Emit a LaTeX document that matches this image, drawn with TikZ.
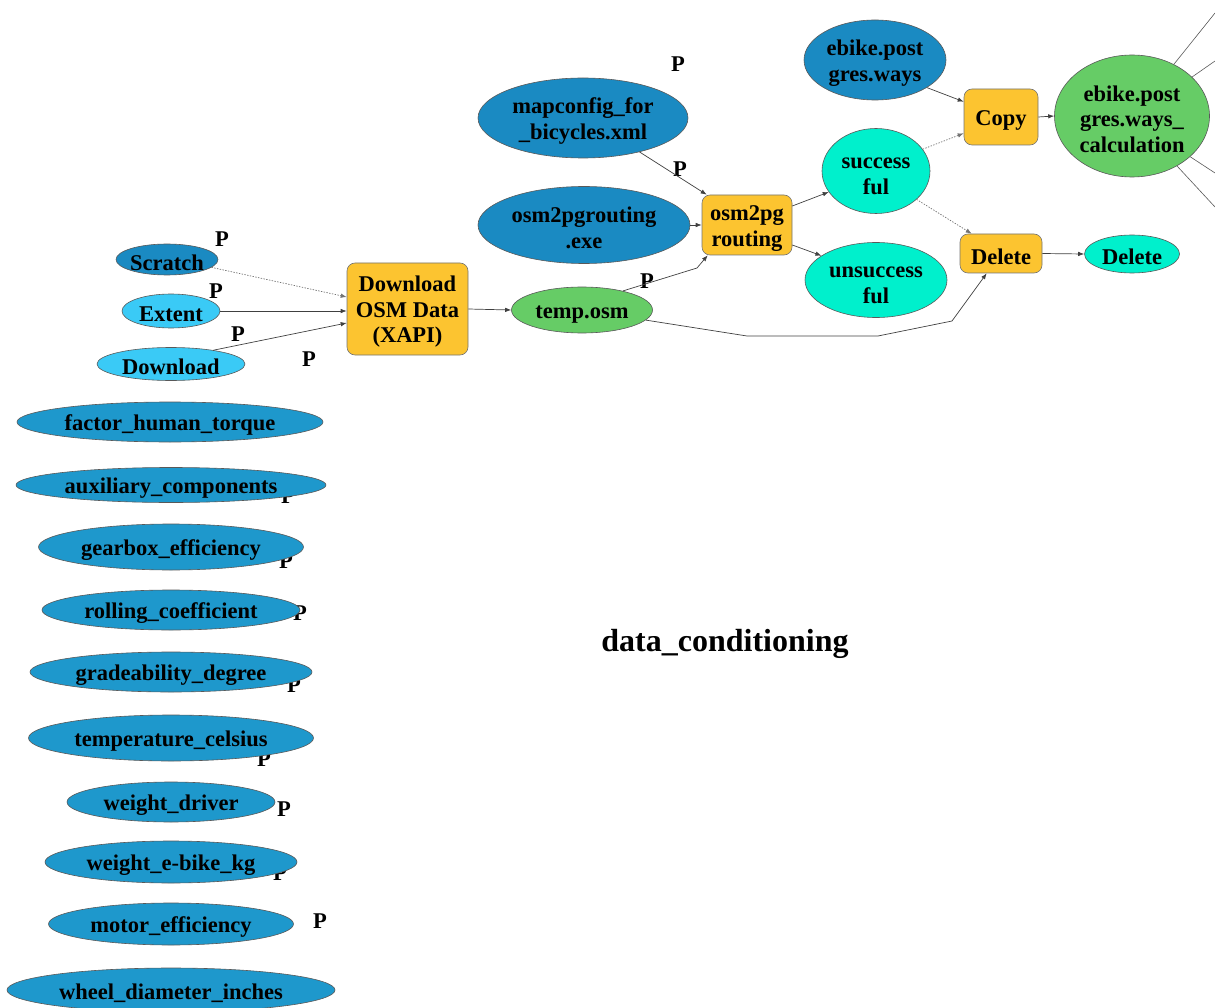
\documentclass[tikz,border=0pt]{standalone}
\usepackage{fontspec}
\setmainfont{Liberation Serif}
\usetikzlibrary{shapes.geometric,arrows.meta,calc}
\definecolor{dkblue}{RGB}{26,138,194}
\definecolor{pmblue}{RGB}{30,152,204}
\definecolor{ltblue}{RGB}{58,202,246}
\definecolor{cyanish}{RGB}{0,240,204}
\definecolor{grn}{RGB}{102,204,102}
\definecolor{orng}{RGB}{252,196,48}
\newcommand{\lowerstrut}{\rule{0pt}{21.5pt}}
\tikzset{
  ell/.style={ellipse, draw=black!65, line width=0.6pt, inner sep=-60pt, align=center,
    execute at begin node=\lowerstrut},
  box/.style={rectangle, rounded corners=8pt, draw=black!55, line width=0.6pt, fill=orng, inner sep=0pt, align=center,
    execute at begin node=\lowerstrut},
  sz/.style 2 args={minimum width=#1pt, minimum height=#2pt},
  conn/.style={draw=black!75, line width=0.7pt, -{Latex[length=6pt,width=4.5pt]}},
  opt/.style={conn, draw=black!55, dash pattern=on 1.4pt off 1.4pt},
  plain/.style={draw=black!65, line width=0.6pt},
  plab/.style={inner sep=0pt}
}
\begin{document}
\begin{tikzpicture}[x=1pt,y=-1pt,
  font=\fontsize{22.5}{25.5}\selectfont\bfseries]
\useasboundingbox (0,0) rectangle (1215,1008);

% P labels behind the parameter ellipses
\node[plab] (p5) at (288,496) {P};
\node[plab] (p6) at (286,561) {P};
\node[plab] (p7) at (300,613) {P};
\node[plab] (p8) at (294,685) {P};
\node[plab] (p9) at (264,759) {P};
\node[plab] (p10) at (284,809) {P};
\node[plab] (p11) at (280,873) {P};
\node[plab] (p12) at (320,921) {P};

% parameter ellipses
\node[ell, fill=pmblue, sz={306}{40}] (fht) at (170,422) {factor\_human\_torque};
\node[ell, fill=pmblue, sz={310}{35}] (aux) at (171,485) {auxiliary\_components};
\node[ell, fill=pmblue, sz={265}{46}] (gbe) at (171,547) {gearbox\_efficiency};
\node[ell, fill=pmblue, sz={258}{40}] (rc) at (171,610) {rolling\_coefficient};
\node[ell, fill=pmblue, sz={282}{40}] (gd) at (171,672) {gradeability\_degree};
\node[ell, fill=pmblue, sz={285}{46}] (tc) at (171,738) {temperature\_celsius};
\node[ell, fill=pmblue, sz={208}{40}] (wd) at (171,802) {weight\_driver};
\node[ell, fill=pmblue, sz={252}{42}] (web) at (171,862) {weight\_e-bike\_kg};
\node[ell, fill=pmblue, sz={245}{42}] (me) at (171,924) {motor\_efficiency};
\node[ell, fill=pmblue, sz={328}{44}] (wdi) at (171,990) {wheel\_diameter\_inches};

% first process
\node[ell, fill=dkblue, sz={102}{31}] (scratch) at (167,259.5) {Scratch};
\node[ell, fill=ltblue, sz={98}{34}] (extent) at (171,311) {Extent};
\node[ell, fill=ltblue, sz={148}{33}] (download) at (171,364) {Download};
\node[box, sz={121}{92}] (dl) at (407.5,309) {\lowerstrut Download\\OSM Data\\(XAPI)};
\node[ell, fill=grn, sz={141}{46}] (temp) at (582,310) {temp.osm};

\node[plab] (p1) at (222,239) {P};
\node[plab] (p2) at (216,291) {P};
\node[plab] (p3) at (238,334) {P};
\node[plab] (p4) at (309,359) {P};

% second process
\node[ell, fill=dkblue, sz={210}{80}] (mapcfg) at (583,118) {\lowerstrut mapconfig\_for\\\_bicycles.xml};
\node[ell, fill=dkblue, sz={212}{77}] (exe) at (584,225) {\lowerstrut osm2pgrouting\\.exe};
\node[box, sz={90}{60}] (o2p) at (747,225) {\lowerstrut osm2pg\\routing};
\node[ell, fill=cyanish, sz={108}{85}] (succ) at (876,171) {\lowerstrut success\\ful};
\node[ell, fill=cyanish, sz={142}{75}] (unsucc) at (876,280) {\lowerstrut unsuccess\\ful};

\node[plab] (p13) at (678,64) {P};
\node[plab] (p14) at (680,169) {P};
\node[plab] (p15) at (647,281) {P};

% third process
\node[ell, fill=dkblue, sz={142}{80}] (ways) at (875,60) {\lowerstrut ebike.post\\gres.ways};
\node[box, sz={74}{56}] (copy) at (1001,117) {Copy};
\node[ell, fill=grn, sz={155}{122}] (calc) at (1132,116) {\lowerstrut ebike.post\\gres.ways\_\\calculation};
\node[box, sz={82}{39}] (delbox) at (1001,253.5) {Delete};
\node[ell, fill=cyanish, sz={95}{38}] (delell) at (1132,254) {Delete};

% title
\node[font=\fontsize{32}{34}\selectfont\bfseries] (title) at (725,644) {data\_conditioning};

% connectors
\draw[opt] (scratch.-10) -- ($(dl.west)+(0,-12)$);
\draw[conn] (extent.east) -- (extent.east -| dl.west);
\draw[conn] (download.18) -- ($(dl.west)+(0,14)$);
\draw[conn] (dl.east) -- (temp.west);

\draw[conn] (mapcfg.-31) -- ($(o2p.north west)+(5,0)$);
\draw[conn] (exe.east) -- (exe.east -| o2p.west);
\draw[conn] (temp.25) -- (697,268) -- ($(o2p.south west)+(6,0)$);
\draw[conn] ($(o2p.east)+(0,-19)$) -- (succ.-156);
\draw[conn] ($(o2p.east)+(0,20)$) -- (unsucc.156);
\draw[conn] (temp.-9) -- (747,336) -- (878,336) -- (952,321) -- ($(delbox.south west)+(27,0)$);

\draw[conn] (ways.-28) -- ($(copy.north west)+(0,13)$);
\draw[opt] (succ.25) -- ($(copy.south west)+(0,-12)$);
\draw[opt] (succ.-35) -- ($(delbox.north west)+(12,0)$);
\draw[conn] (copy.east) -- (calc.west);
\draw[conn] (delbox.east) -- (delell.west);

% connectors leaving the picture
\coordinate (out1) at (1215,13);
\coordinate (out2) at (1215,61);
\coordinate (out3) at (1215,173);
\coordinate (out4) at (1215,207);
\draw[plain] (calc.51) -- (out1);
\draw[plain] (calc.33) -- (out2);
\draw[plain] (calc.-35) -- (out3);
\draw[plain] (calc.-48) -- (out4);
\end{tikzpicture}
\end{document}
